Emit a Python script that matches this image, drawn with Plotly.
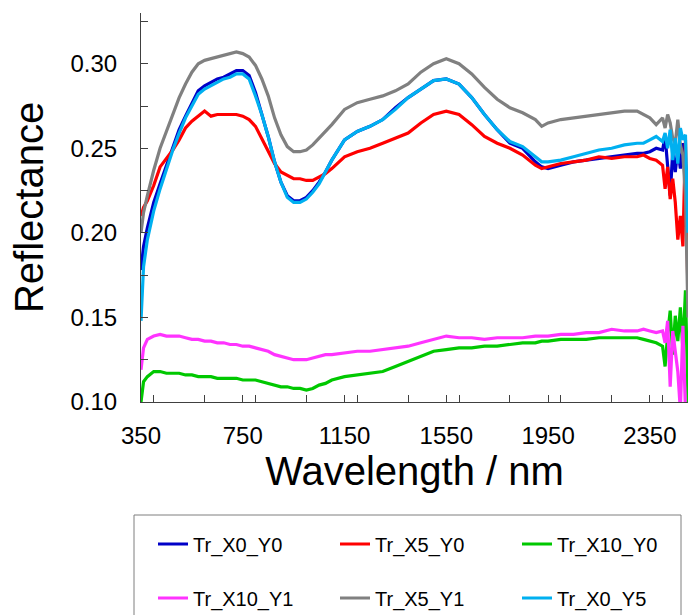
import plotly.graph_objects as go

# Wavelength grid (nm)
wavelength = [
    350, 360, 375, 400, 425, 450, 475, 500, 525, 550,
    575, 600, 625, 650, 675, 700, 725, 750, 775, 800,
    825, 850, 875, 900, 925, 950, 975, 1000, 1025, 1050,
    1075, 1100, 1150, 1200, 1250, 1300, 1350, 1400, 1450, 1500,
    1550, 1600, 1650, 1700, 1750, 1800, 1850, 1900, 1925, 1950,
    2000, 2050, 2100, 2150, 2200, 2250, 2300, 2325, 2350, 2375,
    2400, 2410, 2420, 2430, 2440, 2450, 2460, 2470, 2480, 2490,
    2500,
]

tr_x0_y0 = [
    0.178, 0.192, 0.203, 0.218, 0.229, 0.240, 0.251, 0.261, 0.269, 0.277,
    0.284, 0.287, 0.289, 0.291, 0.292, 0.294, 0.296, 0.296, 0.293, 0.283,
    0.270, 0.257, 0.242, 0.230, 0.222, 0.219, 0.219, 0.221, 0.225, 0.230,
    0.236, 0.243, 0.255, 0.260, 0.263, 0.267, 0.274, 0.280, 0.285, 0.290,
    0.291, 0.288, 0.280, 0.270, 0.261, 0.253, 0.250, 0.242, 0.239, 0.238,
    0.240, 0.242, 0.243, 0.244, 0.245, 0.246, 0.247, 0.247, 0.248, 0.250,
    0.249, 0.257, 0.238, 0.222, 0.248, 0.236, 0.250, 0.238, 0.253, 0.240,
    0.228,
]

tr_x5_y0 = [
    0.210, 0.215, 0.219, 0.228, 0.239, 0.244, 0.249, 0.255, 0.262, 0.266,
    0.269, 0.272, 0.269, 0.270, 0.270, 0.270, 0.270, 0.269, 0.267, 0.263,
    0.256, 0.248, 0.241, 0.236, 0.234, 0.232, 0.232, 0.231, 0.231, 0.233,
    0.235, 0.238, 0.245, 0.248, 0.250, 0.253, 0.256, 0.259, 0.265, 0.270,
    0.272, 0.270, 0.264, 0.257, 0.253, 0.250, 0.246, 0.240, 0.238, 0.239,
    0.241, 0.242, 0.243, 0.245, 0.244, 0.245, 0.245, 0.246, 0.244, 0.243,
    0.240, 0.226, 0.239, 0.220, 0.232, 0.218, 0.196, 0.210, 0.192, 0.255,
    0.160,
]

tr_x10_y0 = [
    0.100, 0.112, 0.115, 0.118, 0.118, 0.117, 0.117, 0.117, 0.116, 0.116,
    0.115, 0.115, 0.115, 0.114, 0.114, 0.114, 0.114, 0.113, 0.113, 0.113,
    0.112, 0.111, 0.110, 0.109, 0.109, 0.108, 0.108, 0.107, 0.108, 0.110,
    0.111, 0.113, 0.115, 0.116, 0.117, 0.118, 0.121, 0.124, 0.127, 0.130,
    0.131, 0.132, 0.132, 0.133, 0.133, 0.134, 0.135, 0.135, 0.136, 0.136,
    0.137, 0.137, 0.137, 0.138, 0.138, 0.138, 0.138, 0.137, 0.136, 0.135,
    0.133, 0.121, 0.140, 0.154, 0.128, 0.151, 0.136, 0.156, 0.131, 0.166,
    0.100,
]

tr_x10_y1 = [
    0.119, 0.132, 0.137, 0.139, 0.140, 0.139, 0.139, 0.139, 0.138, 0.137,
    0.137, 0.136, 0.136, 0.135, 0.135, 0.134, 0.134, 0.133, 0.133, 0.132,
    0.131, 0.130, 0.128, 0.127, 0.126, 0.125, 0.125, 0.125, 0.126, 0.127,
    0.128, 0.128, 0.129, 0.130, 0.130, 0.131, 0.132, 0.133, 0.135, 0.137,
    0.139, 0.138, 0.138, 0.137, 0.138, 0.138, 0.138, 0.139, 0.139, 0.139,
    0.140, 0.140, 0.141, 0.141, 0.143, 0.142, 0.142, 0.143, 0.142, 0.141,
    0.142, 0.135, 0.148, 0.109, 0.142, 0.131, 0.118, 0.095, 0.145, 0.095,
    0.090,
]

tr_x5_y1 = [
    0.200, 0.212, 0.222, 0.237, 0.250, 0.260, 0.270, 0.280, 0.288, 0.295,
    0.300, 0.302, 0.303, 0.304, 0.305, 0.306, 0.307, 0.306, 0.304, 0.299,
    0.291, 0.281, 0.268, 0.258, 0.251, 0.248, 0.248, 0.249, 0.252, 0.256,
    0.260, 0.264, 0.273, 0.277, 0.279, 0.281, 0.284, 0.288, 0.295, 0.300,
    0.303, 0.300, 0.294, 0.286, 0.279, 0.274, 0.271, 0.267, 0.263, 0.265,
    0.267, 0.268, 0.269, 0.270, 0.271, 0.272, 0.272, 0.270, 0.268, 0.264,
    0.268, 0.262, 0.270, 0.265, 0.256, 0.253, 0.267, 0.252, 0.246, 0.222,
    0.150,
]

tr_x0_y5 = [
    0.148, 0.180, 0.196, 0.213, 0.226, 0.238, 0.249, 0.259, 0.268, 0.275,
    0.282, 0.285, 0.287, 0.289, 0.291, 0.292, 0.294, 0.294, 0.291, 0.281,
    0.270, 0.257, 0.242, 0.230, 0.221, 0.218, 0.218, 0.220, 0.224, 0.229,
    0.236, 0.243, 0.255, 0.260, 0.263, 0.267, 0.273, 0.280, 0.285, 0.290,
    0.291, 0.288, 0.280, 0.270, 0.261, 0.254, 0.251, 0.245, 0.242, 0.242,
    0.243, 0.245, 0.247, 0.249, 0.250, 0.252, 0.253, 0.253, 0.255, 0.257,
    0.254, 0.259, 0.250, 0.261, 0.243, 0.256, 0.241, 0.262, 0.255, 0.258,
    0.200,
]

series_names = ["Tr_X0_Y0", "Tr_X5_Y0", "Tr_X10_Y0", "Tr_X10_Y1", "Tr_X5_Y1", "Tr_X0_Y5"]
series_values = [tr_x0_y0, tr_x5_y0, tr_x10_y0, tr_x10_y1, tr_x5_y1, tr_x0_y5]
series_colors = ["#0000C8", "#FF0000", "#00C800", "#FF33FF", "#808080", "#00B0F0"]
legend_ids = ["legend", "legend", "legend", "legend2", "legend2", "legend2"]

FONT = "Arial, Liberation Sans, sans-serif"

fig = go.Figure()
for name, vals, col, lg in zip(series_names, series_values, series_colors, legend_ids):
    fig.add_trace(go.Scatter(
        x=wavelength, y=vals, mode="lines", name=name,
        line=dict(color=col, width=3.2), legend=lg,
    ))

legend_common = dict(
    orientation="h", xref="container", yref="container",
    xanchor="left", yanchor="middle",
    font=dict(family=FONT, size=20, color="#000000"),
    bgcolor="rgba(0,0,0,0)", borderwidth=0,
    entrywidth=137, entrywidthmode="pixels",
    itemclick=False, itemdoubleclick=False,
)

fig.update_layout(
    width=690, height=615,
    margin=dict(l=141, r=2, t=13, b=213, autoexpand=False),
    paper_bgcolor="white", plot_bgcolor="white",
    font=dict(family=FONT, color="#000000"),
    showlegend=True,
    legend=dict(x=153 / 690, y=1 - 544 / 615, **legend_common),
    legend2=dict(x=153 / 690, y=1 - 598 / 615, **legend_common),
    xaxis=dict(
        range=[350, 2500], tick0=350, dtick=400, automargin=False,
        showline=True, linecolor="#404040", linewidth=1,
        ticks="inside", ticklen=7, tickcolor="#404040",
        minor=dict(dtick=200, ticks="inside", ticklen=7, tickcolor="#404040"),
        showgrid=False, zeroline=False,
        tickfont=dict(family=FONT, size=24, color="#000000"),
        ticklabelstandoff=12,
        title=dict(text="Wavelength / nm", font=dict(family=FONT, size=40, color="#000000"), standoff=8),
    ),
    yaxis=dict(
        range=[0.10, 0.33], tick0=0.10, dtick=0.05, tickformat=".2f", automargin=False,
        showline=True, linecolor="#404040", linewidth=1,
        ticks="inside", ticklen=7, tickcolor="#404040",
        minor=dict(dtick=0.025, ticks="inside", ticklen=7, tickcolor="#404040"),
        showgrid=False, zeroline=False,
        tickfont=dict(family=FONT, size=24, color="#000000"),
        ticklabelstandoff=18,
        title=dict(text="Reflectance", font=dict(family=FONT, size=40, color="#000000"), standoff=14),
    ),
    shapes=[dict(
        type="rect", xref="paper", yref="paper",
        x0=(134 - 141) / 547, x1=(681 - 141) / 547,
        y0=(402 - 515) / 389, y1=(402 - 625) / 389,
        line=dict(color="#7F7F7F", width=1), fillcolor="rgba(0,0,0,0)",
    )],
)

fig.write_html(
    "out.html",
    config={"displayModeBar": False, "staticPlot": True},
    post_script="document.body.style.margin='0';",
)
